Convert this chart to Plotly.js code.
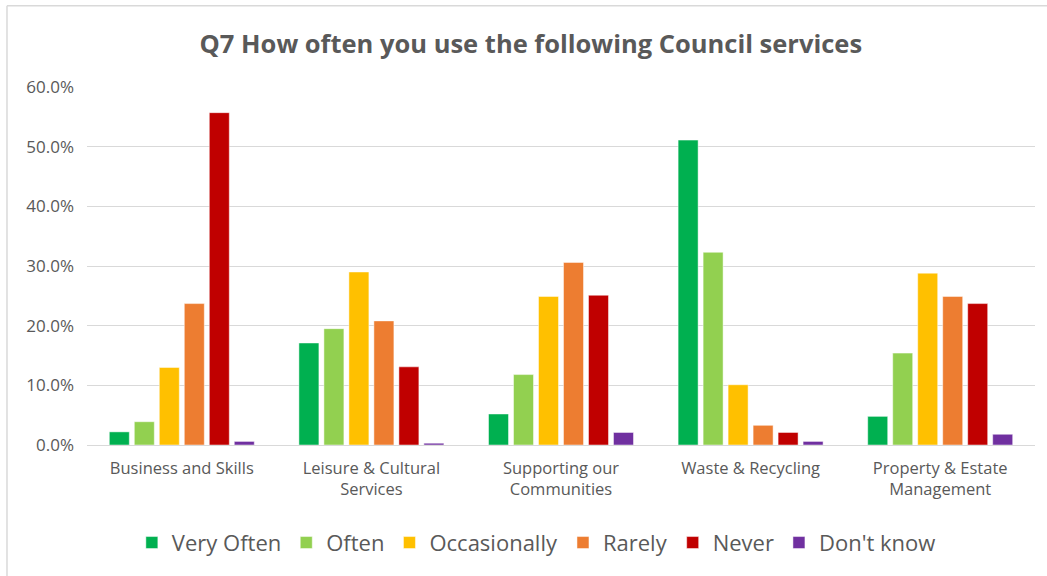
<!DOCTYPE html>
<html>
<head>
<meta charset="utf-8">
<script src="https://cdn.plot.ly/plotly-3.0.1.min.js"></script>
<style>
html,body{margin:0;padding:0;background:#fff;}
#chart{width:1047px;height:576px;}
</style>
</head>
<body>
<div id="chart"></div>
<script>
const categories = ["Business and Skills", "Leisure & Cultural<br>Services", "Supporting our<br>Communities", "Waste & Recycling", "Property & Estate<br>Management"];
const seriesNames = ["Very Often", "Often", "Occasionally", "Rarely", "Never", "Don't know"];
const veryOften    = [2.2, 17.1, 5.2, 51.1, 4.8];
const often        = [3.9, 19.5, 11.8, 32.3, 15.4];
const occasionally = [13.0, 29.0, 24.9, 10.1, 28.8];
const rarely       = [23.7, 20.8, 30.6, 3.3, 24.9];
const never        = [55.7, 13.1, 25.1, 2.1, 23.7];
const dontKnow     = [0.6, 0.3, 2.1, 0.6, 1.8];
const colors = ["#00B050", "#92D050", "#FFC000", "#ED7D31", "#C00000", "#7030A0"];

const seriesValues = [veryOften, often, occasionally, rarely, never, dontKnow];
const traces = seriesValues.map((vals, i) => ({
  type: "bar",
  name: seriesNames[i],
  x: categories,
  y: vals,
  marker: {color: colors[i], line: {color: "rgba(255,255,255,0.6)", width: 0.8}},
  hoverinfo: "x+y+name"
}));

const font = "'Open Sans', 'Liberation Sans', sans-serif";
const layout = {
  width: 1047, height: 576,
  margin: {l: 87, r: 12, t: 87, b: 129},
  paper_bgcolor: "#fff", plot_bgcolor: "#fff",
  font: {family: font, color: "#595959"},
  title: {text: "<b>Q7 How often you use the following Council services</b>",
          font: {size: 25.5, color: "#595959", family: font},
          x: 0.507, xanchor: "center", y: 0.924, yanchor: "middle"},
  barmode: "group",
  bargap: 0.209,
  bargroupgap: 0.2,
  xaxis: {showgrid: false, showline: true, linecolor: "#d9d9d9", linewidth: 1,
          ticks: "", tickfont: {size: 16.5, color: "#595959"}, zeroline: false,
          ticklabelstandoff: 8},
  yaxis: {range: [0, 60], dtick: 10, tickformat: ".1f", ticksuffix: "%",
          showgrid: true, gridcolor: "#d9d9d9", gridwidth: 1, zeroline: false,
          showline: false, ticks: "", ticklabelstandoff: 12,
          tickfont: {size: 17, color: "#595959"}},
  legend: {orientation: "h", x: 0.474, xanchor: "center", y: -0.273, yanchor: "middle",
           font: {size: 22, color: "#595959"}, traceorder: "normal"},
  shapes: [
    {type: "line", xref: "paper", yref: "paper", x0: -0.0844, x1: 1.02, y0: 1.227, y1: 1.227,
     line: {color: "#d9d9d9", width: 1.5}},
    {type: "line", xref: "paper", yref: "paper", x0: -0.0844, x1: -0.0844, y0: 1.227, y1: -0.4,
     line: {color: "#d9d9d9", width: 1.5}}
  ],
  showlegend: true
};
Plotly.newPlot("chart", traces, layout, {displayModeBar: false, staticPlot: true});
</script>
</body>
</html>
